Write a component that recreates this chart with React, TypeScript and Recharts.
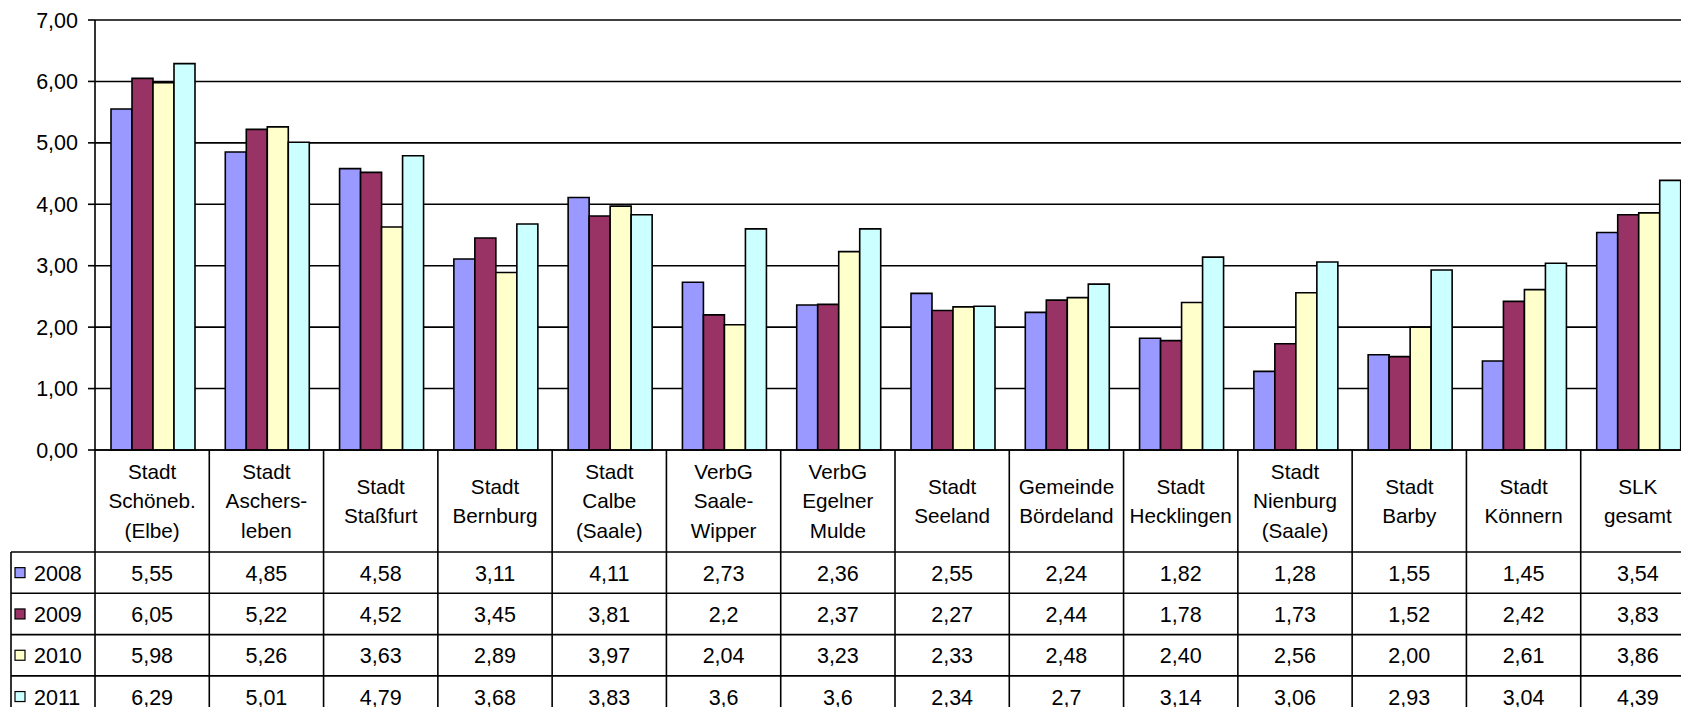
import React from 'react';
import { BarChart, Bar, XAxis, YAxis, CartesianGrid } from 'recharts';

// categories (line breaks as in the table header)
const CATEGORIES = [
  'Stadt\nSchöneb.\n(Elbe)',
  'Stadt\nAschers-\nleben',
  'Stadt\nStaßfurt',
  'Stadt\nBernburg',
  'Stadt\nCalbe\n(Saale)',
  'VerbG\nSaale-\nWipper',
  'VerbG\nEgelner\nMulde',
  'Stadt\nSeeland',
  'Gemeinde\nBördeland',
  'Stadt\nHecklingen',
  'Stadt\nNienburg\n(Saale)',
  'Stadt\nBarby',
  'Stadt\nKönnern',
  'SLK\ngesamt',
];

const SERIES_NAMES = ['2008', '2009', '2010', '2011'];
const SERIES_COLORS = ['#9999FF', '#993366', '#FFFFCC', '#CCFFFF'];

// values as printed in the data table
const VALUES_2008 = ['5,55', '4,85', '4,58', '3,11', '4,11', '2,73', '2,36', '2,55', '2,24', '1,82', '1,28', '1,55', '1,45', '3,54'];
const VALUES_2009 = ['6,05', '5,22', '4,52', '3,45', '3,81', '2,2', '2,37', '2,27', '2,44', '1,78', '1,73', '1,52', '2,42', '3,83'];
const VALUES_2010 = ['5,98', '5,26', '3,63', '2,89', '3,97', '2,04', '3,23', '2,33', '2,48', '2,40', '2,56', '2,00', '2,61', '3,86'];
const VALUES_2011 = ['6,29', '5,01', '4,79', '3,68', '3,83', '3,6', '3,6', '2,34', '2,7', '3,14', '3,06', '2,93', '3,04', '4,39'];

const Y_TICKS = [0, 1, 2, 3, 4, 5, 6, 7];

const TABLE_ROWS = [VALUES_2008, VALUES_2009, VALUES_2010, VALUES_2011];
const toNum = (s: string) => parseFloat(s.replace(',', '.'));

const data = CATEGORIES.map((name, i) => {
  const row: any = { name };
  SERIES_NAMES.forEach((s, k) => {
    row['y' + s] = toNum(TABLE_ROWS[k][i]);
  });
  return row;
});

const FONT = '"Liberation Sans", Arial, sans-serif';
const CHART_W = 1700;
const CHART_H = 707;
const YAXIS_W = 95;
const MARGIN_R = 5;
const BAND = (CHART_W - YAXIS_W - MARGIN_R) / CATEGORIES.length;
const LABEL_H = 102;
const ROW_H = 41.3;
const LEGEND_X = 11;
const LINE_W = 1.6;
const NUM_SIZE = 21.5;

const TableTick = (props: any) => {
  const { x, y, payload } = props;
  const i = typeof props.index === 'number' ? props.index : CATEGORIES.indexOf(payload.value);
  const half = BAND / 2;
  const lines = String(payload.value).split('\n');
  const lh = 29.5;
  const labelMid = y + LABEL_H / 2;
  const firstBase = labelMid - ((lines.length - 1) * lh) / 2 + 7.4;
  const bottom = y + 300;

  return (
    <g>
      {/* header label */}
      {lines.map((ln, k) => (
        <text key={k} x={x} y={firstBase + k * lh} textAnchor="middle" fontSize={20.7} fontFamily={FONT} fill="#000">
          {ln}
        </text>
      ))}
      {/* cell borders */}
      <line x1={x + half} x2={x + half} y1={y} y2={bottom} stroke="#000" strokeWidth={LINE_W} />
      {i === 0 && <line x1={x - half} x2={x - half} y1={y} y2={bottom} stroke="#000" strokeWidth={LINE_W} />}
      {TABLE_ROWS.map((vals, r) => {
        const top = y + LABEL_H + r * ROW_H;
        return (
          <g key={r}>
            <line x1={x - half} x2={x + half} y1={top} y2={top} stroke="#000" strokeWidth={LINE_W} />
            <text x={x} y={top + ROW_H / 2 + 8} textAnchor="middle" fontSize={NUM_SIZE} fontFamily={FONT} fill="#000">
              {vals[i]}
            </text>
            {i === 0 && (
              <g>
                <line x1={LEGEND_X} x2={x - half} y1={top} y2={top} stroke="#000" strokeWidth={LINE_W} />
                <rect x={15} y={top + ROW_H / 2 - 5} width={10} height={10} fill={SERIES_COLORS[r]} stroke="#000" strokeWidth={1.2} />
                <text x={34} y={top + ROW_H / 2 + 8} fontSize={NUM_SIZE} fontFamily={FONT} fill="#000">
                  {SERIES_NAMES[r]}
                </text>
              </g>
            )}
          </g>
        );
      })}
      {i === 0 && <line x1={LEGEND_X} x2={LEGEND_X} y1={y + LABEL_H} y2={bottom} stroke="#000" strokeWidth={LINE_W} />}
    </g>
  );
};

export default function App() {
  return (
    <div style={{ position: 'fixed', left: 0, top: 0, width: 1681, height: 707, overflow: 'hidden', background: '#fff' }}>
      <BarChart
        width={CHART_W}
        height={CHART_H}
        data={data}
        margin={{ top: 20, right: MARGIN_R, left: 0, bottom: 0 }}
        barGap={0}
        barCategoryGap={16}
      >
        <CartesianGrid vertical={false} stroke="#000" strokeWidth={LINE_W} />
        <XAxis
          dataKey="name"
          height={257}
          interval={0}
          tickLine={false}
          tickSize={0}
          tickMargin={0}
          axisLine={{ stroke: '#000', strokeWidth: LINE_W }}
          tick={<TableTick />}
        />
        <YAxis
          width={YAXIS_W}
          domain={[0, 7]}
          ticks={Y_TICKS}
          interval={0}
          tickSize={7}
          tickMargin={10}
          tickFormatter={(v: number) => v.toFixed(2).replace('.', ',')}
          tick={{ fill: '#000', fontSize: NUM_SIZE, fontFamily: FONT }}
          tickLine={{ stroke: '#000', strokeWidth: LINE_W }}
          axisLine={{ stroke: '#000', strokeWidth: LINE_W }}
        />
        {SERIES_NAMES.map((s, k) => (
          <Bar
            key={s}
            dataKey={'y' + s}
            name={s}
            fill={SERIES_COLORS[k]}
            stroke="#000"
            strokeWidth={LINE_W}
            isAnimationActive={false}
          />
        ))}
      </BarChart>
    </div>
  );
}
